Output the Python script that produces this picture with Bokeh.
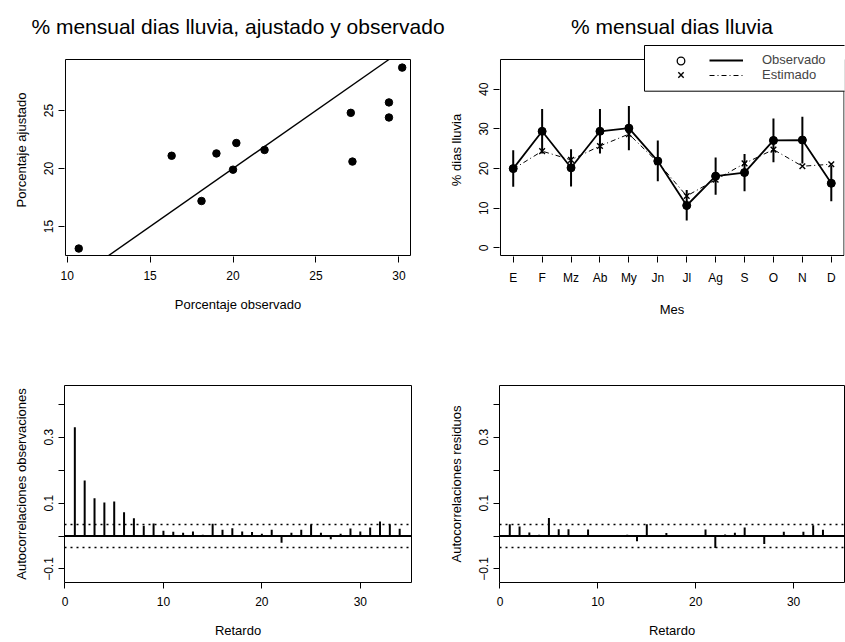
from bokeh.plotting import figure
from bokeh.layouts import column, row
from bokeh.models import Range1d, FixedTicker, Span, BoxAnnotation, Legend, LegendItem
from bokeh.embed import file_html
from bokeh.resources import INLINE

# ---------------- data ----------------
months = ["E", "F", "Mz", "Ab", "My", "Jn", "Jl", "Ag", "S", "O", "N", "D"]
observed = [20.0, 29.4, 20.2, 29.4, 30.2, 21.9, 10.7, 18.1, 19.0, 27.1, 27.2, 16.3]
estimated = [19.9, 24.4, 22.2, 25.7, 28.7, 21.6, 13.1, 17.2, 21.3, 24.8, 20.6, 21.1]
obs_lower = [15.4, 23.8, 15.5, 23.8, 24.6, 16.8, 6.9, 13.4, 14.3, 21.6, 21.3, 11.8]
obs_upper = [24.6, 35.0, 24.9, 35.0, 35.8, 27.1, 14.6, 22.8, 23.7, 32.6, 33.1, 20.8]

lags = list(range(1, 35))
acf_obs = [0.330, 0.169, 0.115, 0.102, 0.105, 0.072, 0.054, 0.031, 0.038, 0.016,
           0.013, 0.010, 0.014, 0.004, 0.037, 0.019, 0.024, 0.014, 0.012, 0.007,
           0.019, -0.020, 0.010, 0.019, 0.035, 0.010, -0.010, 0.007, 0.023, 0.014,
           0.026, 0.044, 0.035, 0.022]
acf_res = [0.036, 0.029, 0.011, 0.004, 0.055, 0.021, 0.021, 0.002, 0.020, -0.001,
           -0.002, -0.002, 0.004, -0.016, 0.036, -0.002, 0.009, 0.002, 0.003, -0.001,
           0.020, -0.036, 0.005, 0.010, 0.026, -0.001, -0.024, -0.002, 0.013, -0.001,
           0.013, 0.033, 0.019, 0.001]
conf_bound = 0.035

scatter_xticks = [10, 15, 20, 25, 30]
scatter_yticks = [15, 20, 25]
month_yticks = [0, 10, 20, 30, 40]
lag_xticks = [0, 10, 20, 30]
acf_yticks = [-0.1, 0.1, 0.3]
acf_minor_yticks = [0.0, 0.2, 0.4]

FONT = "Liberation Sans"


def style(p, xlabel, ylabel, outline=True):
    p.outline_line_color = "black" if outline else None
    p.outline_line_width = 1
    p.outline_line_alpha = 1
    p.background_fill_color = "white"
    p.border_fill_color = "white"
    p.xgrid.visible = False
    p.ygrid.visible = False
    for ax in (p.xaxis[0], p.yaxis[0]):
        ax.axis_line_color = None
        ax.major_tick_out = 6
        ax.major_tick_in = 0
        ax.minor_tick_out = 0
        ax.minor_tick_in = 0
        ax.major_tick_line_color = "black"
        ax.major_label_text_font = FONT
        ax.major_label_text_font_size = "12px"
        ax.major_label_text_color = "black"
        ax.axis_label_text_font = FONT
        ax.axis_label_text_font_size = "13px"
        ax.axis_label_text_font_style = "normal"
        ax.axis_label_text_color = "black"
    p.xaxis[0].axis_label = xlabel
    p.yaxis[0].axis_label = ylabel
    p.xaxis[0].major_label_standoff = 8
    p.xaxis[0].axis_label_standoff = 14
    p.yaxis[0].major_label_standoff = 5
    p.yaxis[0].axis_label_standoff = 13
    p.yaxis[0].major_label_orientation = "vertical"
    if p.title is not None:
        p.title.text_font = FONT
        p.title.text_font_size = "21px"
        p.title.text_font_style = "normal"
        p.title.align = "center"
        p.title.text_color = "black"
        p.title.standoff = 12


def plot_box(p, bx, by):
    # R-style box around the plotting region (drawn inside a slightly larger frame)
    p.add_layout(BoxAnnotation(left=bx[0], right=bx[1], bottom=by[0], top=by[1],
                               fill_alpha=0, line_color="black", line_width=1, line_alpha=1))


# ---------------- top-left: scatter ----------------
box1_x = (9.9, 30.7)
box1_y = (12.5, 29.4)
p1 = figure(width=445, height=321, x_range=Range1d(9.84, 30.76), y_range=Range1d(12.414, 30.78),
            output_backend="svg", toolbar_location=None,
            title="% mensual dias lluvia, ajustado y observado",
            min_border_left=64, min_border_right=34, min_border_top=43, min_border_bottom=65)
style(p1, "Porcentaje observado", "Porcentaje ajustado", outline=False)
p1.xaxis[0].ticker = FixedTicker(ticks=scatter_xticks)
p1.yaxis[0].ticker = FixedTicker(ticks=scatter_yticks)
plot_box(p1, box1_x, box1_y)
lo = max(box1_x[0], box1_y[0])
hi = min(box1_x[1], box1_y[1])
p1.line([lo, hi], [lo, hi], line_color="black", line_width=1.5)   # y = x reference line
p1.scatter(observed, estimated, marker="circle", size=7.5, fill_color="black", line_color="black")

# ---------------- top-right: monthly ----------------
mx = list(range(1, len(months) + 1))
box2_x = (0.56, 12.44)
box2_y = (-1.9, 47.5)
p2 = figure(width=400, height=321, x_range=Range1d(0.5255, 12.457), y_range=Range1d(-2.152, 51.53),
            output_backend="svg", toolbar_location=None,
            title="% mensual dias lluvia",
            min_border_left=53, min_border_right=1, min_border_top=43, min_border_bottom=65)
style(p2, "Mes", "% dias lluvia", outline=False)
p2.xaxis[0].ticker = FixedTicker(ticks=mx)
p2.xaxis[0].major_label_overrides = {i: m for i, m in zip(mx, months)}
p2.yaxis[0].ticker = FixedTicker(ticks=month_yticks)
plot_box(p2, box2_x, box2_y)

p2.segment(x0=mx, y0=obs_lower, x1=mx, y1=obs_upper, line_color="black", line_width=2)
r_est = p2.line(mx, estimated, line_color="black", line_width=1, line_dash="5 3 1 3")
r_obs = p2.line(mx, observed, line_color="black", line_width=1.8)
r_x = p2.scatter(mx, estimated, marker="x", size=8, line_color="black", line_width=1.4)
p2.scatter(mx, observed, marker="circle", size=8, fill_color="black", line_color="black")
# open-circle style used only as the legend symbol (hidden under the filled circles)
r_open = p2.scatter(mx, observed, marker="circle", size=6.5, fill_color=None,
                    line_color="black", line_width=1.3)

legend_box = BoxAnnotation(left=145, right=420, top=211, bottom=165.3, left_units="screen",
                           right_units="screen", top_units="screen", bottom_units="screen",
                           fill_color="white", fill_alpha=1, line_color="black", line_width=1,
                           line_alpha=1)
p2.add_layout(legend_box)

common = dict(padding=0, spacing=0, margin=0, label_text_font=FONT, label_text_font_size="13px",
              border_line_color=None, background_fill_alpha=0)
leg_lines = Legend(items=[LegendItem(label="Observado", renderers=[r_obs]),
                          LegendItem(label="Estimado", renderers=[r_est])],
                   location=(210, 174), glyph_width=34, glyph_height=14, label_height=14,
                   label_standoff=19, **common)
leg_circ = Legend(items=[LegendItem(label="", renderers=[r_open])],
                  location=(171.8, 186.5), glyph_width=19, glyph_height=19, label_height=14,
                  label_standoff=0, **common)
leg_x = Legend(items=[LegendItem(label="", renderers=[r_x])],
               location=(171.8, 172.2), glyph_width=19, glyph_height=19, label_height=14,
               label_standoff=0, **common)
p2.add_layout(leg_lines)
p2.add_layout(leg_circ)
p2.add_layout(leg_x)


# ---------------- bottom: ACFs ----------------
def acf_panel(values, ylabel, width, bl, br):
    p = figure(width=width, height=321, x_range=Range1d(-0.05, 35.2),
               y_range=Range1d(-0.141, 0.457), output_backend="svg", toolbar_location=None,
               min_border_left=bl, min_border_right=br, min_border_top=64, min_border_bottom=60)
    style(p, "Retardo", ylabel)
    p.xaxis[0].ticker = FixedTicker(ticks=lag_xticks)
    p.yaxis[0].ticker = FixedTicker(ticks=acf_yticks, minor_ticks=acf_minor_yticks)
    p.yaxis[0].minor_tick_out = 6
    p.yaxis[0].minor_tick_line_color = "black"
    p.segment(x0=lags, y0=0, x1=lags, y1=values, line_color="black", line_width=2)
    p.add_layout(Span(location=0, dimension="width", line_color="black", line_width=2))
    for b in (conf_bound, -conf_bound):
        p.add_layout(Span(location=b, dimension="width", line_color="black",
                          line_width=1.5, line_dash="2 4"))
    return p


p3 = acf_panel(acf_obs, "Autocorrelaciones observaciones", 445, 64, 34)
p4 = acf_panel(acf_res, "Autocorrelaciones residuos", 400, 53, 1)

layout = column(row(p1, p2), row(p3, p4))
open("out.html", "w").write(file_html(layout, INLINE))
